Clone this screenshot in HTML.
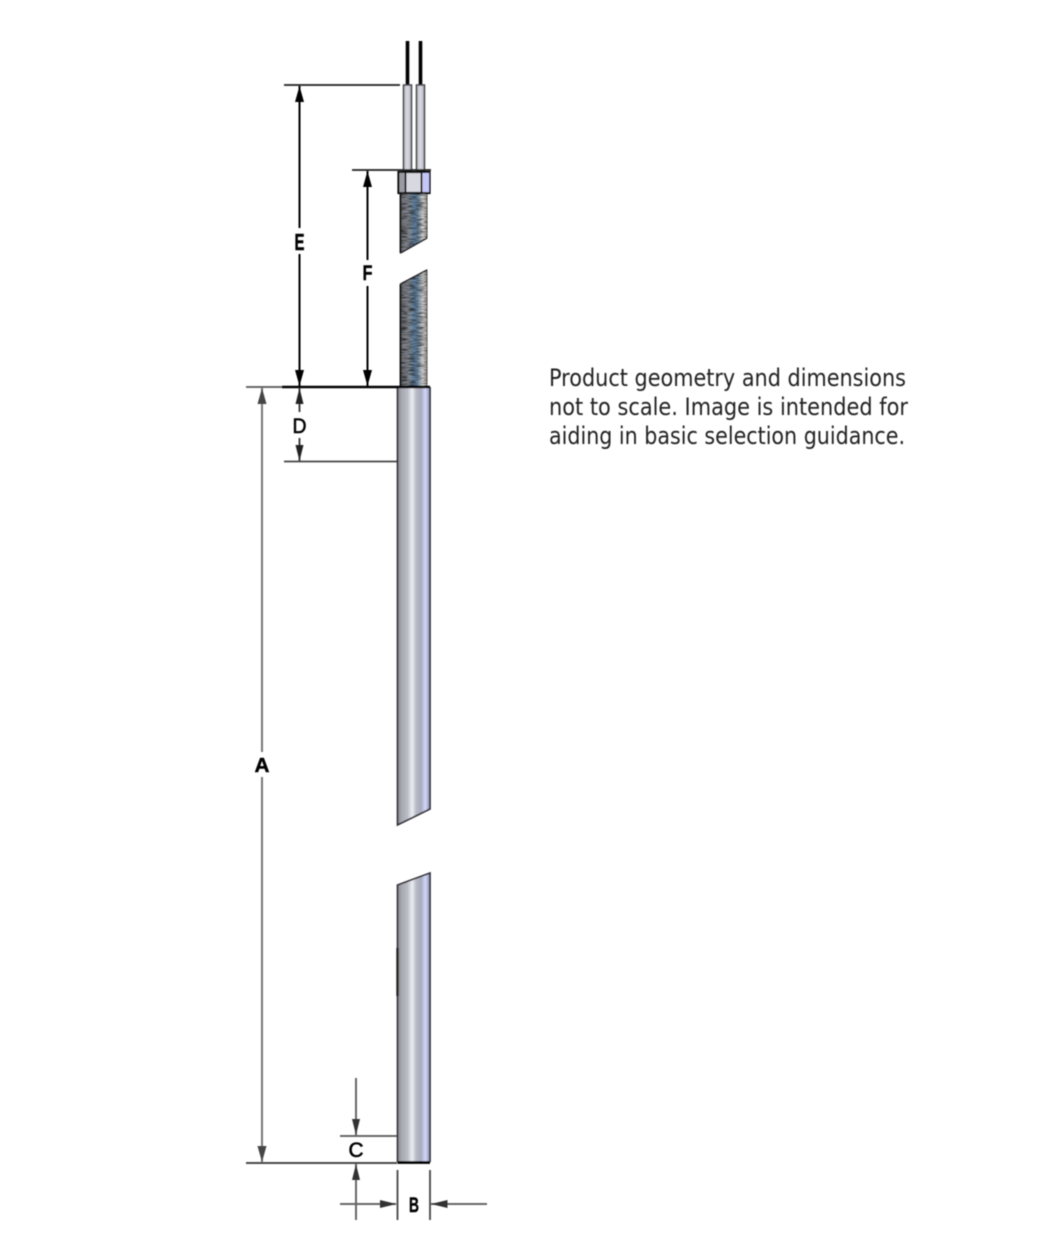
<!DOCTYPE html>
<html>
<head>
<meta charset="utf-8">
<style>
html,body{margin:0;padding:0;background:#fff;width:1049px;height:1247px;overflow:hidden}
svg{display:block}
text{font-family:"Liberation Sans",sans-serif}
</style>
</head>
<body>
<svg width="1049" height="1247" viewBox="0 0 1049 1247" xmlns="http://www.w3.org/2000/svg">
<defs>
<linearGradient id="rod" x1="0" x2="1" y1="0" y2="0">
<stop offset="0" stop-color="#85868c"/>
<stop offset=".12" stop-color="#a6a8b0"/>
<stop offset=".3" stop-color="#b8bbc4"/>
<stop offset=".45" stop-color="#eceef2"/>
<stop offset=".58" stop-color="#b6b9c6"/>
<stop offset=".72" stop-color="#a8abbe"/>
<stop offset=".86" stop-color="#d2d8fa"/>
<stop offset="1" stop-color="#8a8da8"/>
</linearGradient>
<linearGradient id="fib" x1="0" x2="1" y1="0" y2="0">
<stop offset="0" stop-color="#6a6c72"/>
<stop offset=".3" stop-color="#8a9098"/>
<stop offset=".5" stop-color="#5f80a0"/>
<stop offset=".65" stop-color="#7088a0"/>
<stop offset=".85" stop-color="#dcd9d4"/>
<stop offset="1" stop-color="#a8a8a8"/>
</linearGradient>
<linearGradient id="tube" x1="0" x2="1" y1="0" y2="0">
<stop offset="0" stop-color="#b4b4bc"/>
<stop offset=".5" stop-color="#dcdce4"/>
<stop offset="1" stop-color="#acacb8"/>
</linearGradient>
<filter id="noise" x="0" y="0" width="100%" height="100%">
<feTurbulence type="fractalNoise" baseFrequency="0.12 0.9" numOctaves="2" seed="4"/>
<feColorMatrix type="matrix" values="0 0 0 0 0  0 0 0 0 0  0 0 0 0 0  1.6 0 0 0 -0.6"/>
<feComposite in2="SourceAlpha" operator="in"/>
</filter>
<filter id="soft" x="-5%" y="-5%" width="110%" height="110%"><feGaussianBlur stdDeviation="0.4"/></filter>
</defs>

<g filter="url(#soft)">
<!-- wires -->
<path d="M407.5 41V85M420.5 41V85" stroke="#000" stroke-width="3.6" fill="none"/>
<!-- tubes -->
<rect x="403.5" y="85" width="8" height="86" fill="url(#tube)" stroke="#444" stroke-width="1.5"/>
<rect x="416.5" y="85" width="8" height="86" fill="url(#tube)" stroke="#444" stroke-width="1.5"/>

<!-- fibre sections -->
<path d="M400.5 193H427V238L400.5 253Z" fill="url(#fib)" stroke="#444" stroke-width="1"/>
<path d="M400.5 193H427V238L400.5 253Z" fill="#000" filter="url(#noise)"/>
<path d="M400.5 284L427 270V387H400.5Z" fill="url(#fib)" stroke="#555" stroke-width="1"/>
<path d="M400.5 284L427 270V387H400.5Z" fill="#000" filter="url(#noise)"/>
<path d="M400.5 193V253" stroke="#111" stroke-width="1.8"/>
<path d="M400.5 284V387" stroke="#111" stroke-width="1.8"/>
<path d="M400.5 253L427 238" stroke="#222" stroke-width="1.5"/>
<path d="M400.5 284L427 270" stroke="#222" stroke-width="1.5"/>

<!-- nut -->
<rect x="398.5" y="172" width="31" height="21" fill="#d8d8e0" stroke="#111" stroke-width="2.2"/>
<rect x="399.5" y="173" width="6" height="19" fill="#9a9aa2"/>
<rect x="422" y="173" width="7" height="19" fill="#c4c6f6"/>
<path d="M405.5 172V193M421.5 172V193" stroke="#111" stroke-width="1.8"/>

<!-- rod sections -->
<path d="M397.5 387H430V809L397.5 825Z" fill="url(#rod)"/>
<path d="M397.5 885L430 873V1162H397.5Z" fill="url(#rod)"/>
<path d="M397.5 387V825L430 809V387" fill="none" stroke="#2a2a30" stroke-width="1.6"/>
<path d="M430 1162V873L397.5 885V1162" fill="none" stroke="#2a2a30" stroke-width="1.6"/>
<path d="M397.5 948V996" stroke="#222" stroke-width="2.4"/>
<path d="M397.5 1162.5H430" stroke="#000" stroke-width="2.8"/>

<!-- extension lines -->
<path d="M284 85H400" stroke="#222" stroke-width="1.8"/>
<path d="M352 170H431" stroke="#222" stroke-width="1.8"/>
<path d="M246 387H282" stroke="#555" stroke-width="1.8"/>
<path d="M282 387H430" stroke="#000" stroke-width="2.4"/>
<path d="M284 461.5H397" stroke="#444" stroke-width="1.8"/>
<path d="M340 1136H397" stroke="#555" stroke-width="1.8"/>
<path d="M246 1163H397" stroke="#333" stroke-width="1.8"/>
<path d="M397.5 1170V1220M430 1170V1220" stroke="#444" stroke-width="1.8"/>

<!-- E -->
<path d="M299.5 86V228M299.5 254V386" stroke="#000" stroke-width="2"/>
<path d="M299.5 86L295 102H304Z M299.5 386L295 370H304Z" fill="#000"/>
<!-- F -->
<path d="M367.5 171V260M367.5 286V386" stroke="#000" stroke-width="2"/>
<path d="M367.5 171L363 187H372Z M367.5 386L363 370H372Z" fill="#000"/>
<!-- D -->
<path d="M299.5 388V412M299.5 438V461" stroke="#333" stroke-width="1.8"/>
<path d="M299.5 388L295.5 404H303.5Z M299.5 461L295.5 445H303.5Z" fill="#222"/>
<!-- A -->
<path d="M262 388V752M262 777V1162" stroke="#777" stroke-width="2"/>
<path d="M262 388L257.5 404H266.5Z M262 1162L257.5 1146H266.5Z" fill="#444"/>
<!-- C -->
<path d="M356 1078V1135M356 1164V1220" stroke="#666" stroke-width="2"/>
<path d="M356 1135L352 1119H360Z M356 1164L352 1180H360Z" fill="#333"/>
<!-- B -->
<path d="M340 1204H396M431 1204H487" stroke="#666" stroke-width="2"/>
<path d="M396.5 1204L380 1200V1208Z M431 1204L447.5 1200V1208Z" fill="#333"/>

<!-- labels -->
<g font-weight="bold" font-size="21" fill="#000" stroke="#000" stroke-width=".4">
<text x="294.5" y="250" font-size="23" textLength="10" lengthAdjust="spacingAndGlyphs">E</text>
<text x="362.5" y="280" textLength="10" lengthAdjust="spacingAndGlyphs">F</text>
<text x="292.5" y="433" font-weight="normal" stroke-width=".6" textLength="14" lengthAdjust="spacingAndGlyphs">D</text>
<text x="254.5" y="772" font-size="20" textLength="15" lengthAdjust="spacingAndGlyphs">A</text>
<text x="348.5" y="1157" font-weight="normal" stroke-width=".6" textLength="15" lengthAdjust="spacingAndGlyphs">C</text>
<text x="409" y="1212" textLength="10" lengthAdjust="spacingAndGlyphs">B</text>
</g>

<!-- note -->
<g font-size="24" fill="#222" style="font-family:'DejaVu Sans',sans-serif">
<text x="549" y="386" textLength="357" lengthAdjust="spacingAndGlyphs" style="font-family:'DejaVu Sans',sans-serif">Product geometry and dimensions</text>
<text x="549" y="415" textLength="359" lengthAdjust="spacingAndGlyphs" style="font-family:'DejaVu Sans',sans-serif">not to scale. Image is intended for</text>
<text x="549" y="444" textLength="356" lengthAdjust="spacingAndGlyphs" style="font-family:'DejaVu Sans',sans-serif">aiding in basic selection guidance.</text>
</g>
</g>
</svg>
</body>
</html>
